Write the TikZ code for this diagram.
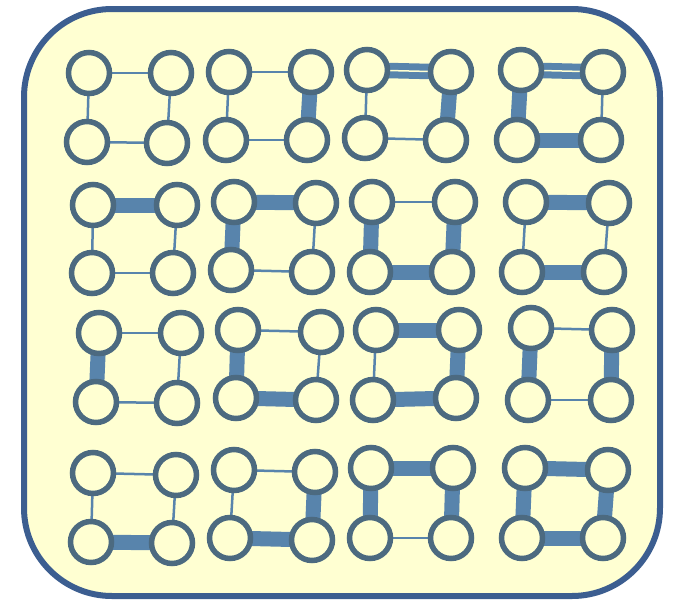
\documentclass[tikz,border=0pt]{standalone}
\usepackage{tikz}

\definecolor{ringcol}{RGB}{76,106,128}
\definecolor{linkcol}{RGB}{88,132,172}
\definecolor{framecol}{RGB}{60,94,144}
\definecolor{paper}{RGB}{255,255,210}

\pgfdeclarelayer{back}
\pgfdeclarelayer{links}
\pgfsetlayers{back,links,main}

\tikzset{
  vtx/.style={circle, draw=ringcol, fill=paper, line width=5.5pt, minimum size=41pt, inner sep=0pt},
  thinlink/.style={draw=linkcol, line width=2.5pt},
  thicklink/.style={draw=linkcol, line width=15pt},
  duallink/.style={draw=linkcol, line width=7pt, double=paper, double distance=1.5pt},
}

\begin{document}
\begin{tikzpicture}[x=1pt,y=-1pt]
\useasboundingbox (0,0) rectangle (673,603);

\begin{pgfonlayer}{back}
\draw[framecol, line width=6pt, fill=paper, rounded corners=88pt] (24,9) rectangle (660,596);
\end{pgfonlayer}

% each square: top-left, top-right, bottom-left, bottom-right, then top/left/right/bottom links
\foreach \g/\ax/\ay/\bx/\by/\cx/\cy/\dx/\dy/\t/\l/\r/\b in {
  1/89/73/171/73/87/142/167/143/thinlink/thinlink/thinlink/thinlink,
  2/229/72/311/72/226/140/307/140/thinlink/thinlink/thicklink/thinlink,
  3/367/70/451/72/365/138/446/140/duallink/thinlink/thicklink/thinlink,
  4/521/70/603/72/517/140/601/140/duallink/thicklink/thinlink/thicklink,
  5/93/205/177/205/92/273/173/273/thicklink/thinlink/thinlink/thinlink,
  6/234/202/316/203/231/270/312/272/thicklink/thicklink/thinlink/thinlink,
  7/372/202/455/202/370/272/452/272/thinlink/thicklink/thicklink/thicklink,
  8/526/202/609/203/522/272/604/272/thicklink/thinlink/thinlink/thicklink,
  9/99/333/181/333/96/402/177/403/thinlink/thicklink/thinlink/thinlink,
  10/238/330/321/332/236/398/316/400/thinlink/thicklink/thinlink/thicklink,
  11/376/330/459/330/373/400/456/398/thicklink/thinlink/thicklink/thicklink,
  12/531/328/612/330/528/400/611/400/thinlink/thicklink/thicklink/thinlink,
  13/93/473/176/475/91/542/172/543/thinlink/thinlink/thinlink/thicklink,
  14/234/470/315/472/230/538/312/540/thinlink/thinlink/thicklink/thicklink,
  15/371/468/453/468/370/538/451/538/thicklink/thicklink/thicklink/thinlink,
  16/525/468/608/470/522/538/603/538/thicklink/thicklink/thicklink/thicklink}
{
  \node[vtx] (g\g a) at (\ax,\ay) {};
  \node[vtx] (g\g b) at (\bx,\by) {};
  \node[vtx] (g\g c) at (\cx,\cy) {};
  \node[vtx] (g\g d) at (\dx,\dy) {};
  \begin{pgfonlayer}{links}
  \draw[style/.expanded=\t] (g\g a.center) -- (g\g b.center);
  \draw[style/.expanded=\l] (g\g a.center) -- (g\g c.center);
  \draw[style/.expanded=\r] (g\g b.center) -- (g\g d.center);
  \draw[style/.expanded=\b] (g\g c.center) -- (g\g d.center);
  \end{pgfonlayer}
}
\end{tikzpicture}
\end{document}
